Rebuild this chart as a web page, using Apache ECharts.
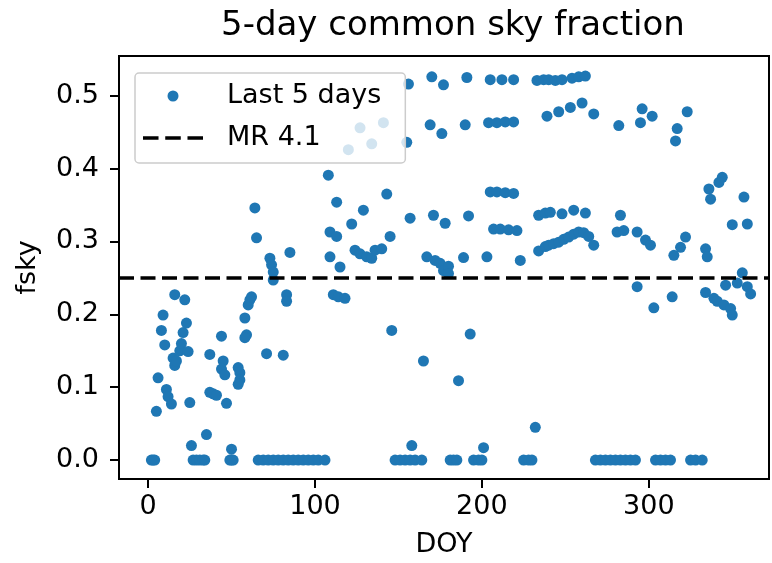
<!DOCTYPE html>
<html>
<head>
<meta charset="utf-8">
<script src="https://cdn.jsdelivr.net/npm/echarts@6/dist/echarts.min.js"></script>
<style>
  html, body { margin: 0; padding: 0; background: #fff; }
  #chart { width: 772px; height: 563px; }
</style>
</head>
<body>
<div id="chart"></div>
<script>
// day of year for every point
const doy = [
  2, 3, 4, 5, 6, 8, 9, 10, 11, 12, 14, 15, 16, 17, 16, 19, 20, 21, 22, 23, 24, 25,
  27, 29, 31, 33, 34, 26, 35, 49, 50, 51, 50,
  37, 44, 45, 44, 46, 37, 39, 41, 47, 54, 55, 55, 54, 58, 59, 58, 60, 61, 62,
  64, 65, 71, 73, 74, 75, 75, 81, 83, 83, 85,
  66, 69, 72, 75, 78, 81, 84, 87, 90, 93, 96, 99, 102, 106,
  108, 109, 113, 109, 113, 115, 111, 114, 118,
  120, 122, 124, 127, 127, 129, 131, 134, 134, 136, 140, 141, 143, 145, 146,
  148, 151, 154, 157, 160, 164, 158,
  155, 156, 157, 165, 167, 169, 170, 171, 172, 175, 176, 177, 177, 178, 180, 180,
  181, 183, 185, 186, 189, 190, 191, 192, 193,
  195, 198, 200, 201, 203,
  205, 212, 219, 204, 209, 214, 219, 205, 209, 214, 219, 207, 211, 216, 221, 223,
  225, 228, 230, 232,
  233, 237, 240, 244, 248, 254, 258, 262,
  239, 246, 253, 260, 267,
  234, 238, 241, 248, 255, 262,
  234, 238, 240, 243, 246, 249, 252, 255, 258, 261, 264, 267,
  268, 271, 274, 277, 280, 283, 286, 289, 292,
  282, 283, 281, 285, 293, 293, 296, 302, 295, 298, 301, 303,
  304, 307, 310, 313,
  315, 314, 316, 317, 319, 322, 323, 334, 335, 334,
  325, 328, 332,
  344, 342, 336, 337, 357, 350, 359, 356, 346, 353, 359, 361,
  339, 341, 345, 349, 350
];

// matching common sky fraction
const fsky = [
  0, 0, 0, 0.067, 0.113, 0.178, 0.199, 0.158, 0.097, 0.087, 0.077, 0.14, 0.13, 0.136, 0.227, 0.15, 0.16, 0.175, 0.22, 0.188, 0.149, 0.079,
  0, 0, 0, 0, 0, 0.02, 0.035, 0, 0, 0, 0.015,
  0.145, 0.17, 0.136, 0.125, 0.117, 0.093, 0.091, 0.089, 0.078, 0.127, 0.12, 0.11, 0.104, 0.195, 0.172, 0.168, 0.213, 0.22, 0.224,
  0.346, 0.305, 0.146, 0.277, 0.268, 0.258, 0.247, 0.144, 0.227, 0.218, 0.285,
  0, 0, 0, 0, 0, 0, 0, 0, 0, 0, 0, 0, 0, 0,
  0.391, 0.313, 0.354, 0.279, 0.307, 0.265, 0.227, 0.224, 0.222,
  0.426, 0.324, 0.288, 0.283, 0.456, 0.343, 0.279, 0.277, 0.434, 0.288, 0.29, 0.463, 0.365, 0.307, 0.178,
  0, 0, 0, 0, 0, 0, 0.02,
  0.436, 0.516, 0.332, 0.136, 0.279, 0.46, 0.526, 0.336, 0.274, 0.27, 0.448, 0.515, 0.26, 0.325, 0.266, 0.256,
  0, 0, 0, 0.109, 0.278, 0.46, 0.525, 0.335, 0.173,
  0, 0, 0, 0.017, 0.279,
  0.522, 0.522, 0.522, 0.463, 0.463, 0.464, 0.464, 0.368, 0.368, 0.367, 0.366, 0.317, 0.317, 0.316, 0.315, 0.274,
  0, 0, 0, 0.045,
  0.521, 0.522, 0.522, 0.521, 0.522, 0.524, 0.526, 0.527,
  0.472, 0.478, 0.484, 0.49, 0.475,
  0.336, 0.339, 0.34, 0.338, 0.343, 0.339,
  0.287, 0.293, 0.295, 0.297, 0.299, 0.303, 0.306, 0.31, 0.313, 0.312, 0.307, 0.295,
  0, 0, 0, 0, 0, 0, 0, 0, 0,
  0.459, 0.336, 0.313, 0.315, 0.313, 0.238, 0.482, 0.472, 0.463, 0.302, 0.295, 0.209,
  0, 0, 0, 0,
  0.281, 0.224, 0.438, 0.455, 0.292, 0.306, 0.478, 0.29, 0.279, 0.23,
  0, 0, 0,
  0.388, 0.381, 0.372, 0.358, 0.361, 0.323, 0.324, 0.257, 0.24, 0.243, 0.238, 0.228,
  0.222, 0.218, 0.213, 0.208, 0.199
];

const mrLevel = 0.25;
const xTicks = [0, 100, 200, 300];
const yTicks = [0, 0.1, 0.2, 0.3, 0.4, 0.5];
const xRange = [-17.4, 372];
const yRange = [-0.0259, 0.5545];

const points = doy.map((d, i) => [d, fsky[i]]);
const font = 'DejaVu Sans';
const dash = [15, 6.5];
// three dashes for the legend sample
const dashIcon = 'path://M0,0h15v3.5h-15z M21.5,0h15v3.5h-15z M43,0h15v3.5h-15z';

const chart = echarts.init(document.getElementById('chart'), null, { renderer: 'canvas' });
chart.setOption({
  animation: false,
  backgroundColor: '#fff',
  title: {
    text: '5-day common sky fraction',
    left: 216,
    top: 4,
    textStyle: { fontFamily: font, fontSize: 34, fontWeight: 'normal', color: '#000' }
  },
  legend: {
    orient: 'vertical',
    left: 135,
    top: 73,
    padding: [8, 24, 10, 8],
    itemGap: 12,
    itemWidth: 60,
    itemHeight: 11,
    backgroundColor: 'rgba(255,255,255,0.8)',
    borderColor: '#cccccc',
    borderWidth: 1.5,
    borderRadius: 4,
    textStyle: { fontFamily: font, fontSize: 27, color: '#000', lineHeight: 30, padding: [0, 0, 0, 19] },
    data: [
      { name: 'Last 5 days', icon: 'circle' },
      { name: 'MR 4.1', icon: dashIcon }
    ]
  },
  grid: {
    left: 119, right: 3, top: 56, bottom: 81,
    show: true, borderColor: '#000', borderWidth: 2
  },
  xAxis: {
    type: 'value',
    min: xRange[0],
    max: xRange[1],
    name: 'DOY',
    nameLocation: 'middle',
    nameGap: 52,
    nameTextStyle: { fontFamily: font, fontSize: 27, color: '#000' },
    splitLine: { show: false },
    axisLine: { show: true, onZero: false, lineStyle: { color: '#000', width: 2 } },
    axisTick: { show: true, length: 9, lineStyle: { color: '#000', width: 2 }, customValues: xTicks },
    axisLabel: { fontFamily: font, fontSize: 27, color: '#000', margin: 14, customValues: xTicks }
  },
  yAxis: {
    type: 'value',
    min: yRange[0],
    max: yRange[1],
    name: 'fsky',
    nameLocation: 'middle',
    nameGap: 78,
    nameTextStyle: { fontFamily: font, fontSize: 27, color: '#000' },
    splitLine: { show: false },
    axisLine: { show: true, onZero: false, lineStyle: { color: '#000', width: 2 } },
    axisTick: { show: true, length: 9, lineStyle: { color: '#000', width: 2 }, customValues: yTicks },
    axisLabel: {
      fontFamily: font, fontSize: 27, color: '#000', margin: 20, customValues: yTicks,
      formatter: v => v.toFixed(1)
    }
  },
  series: [
    {
      name: 'Last 5 days',
      type: 'scatter',
      symbol: 'circle',
      symbolSize: 11,
      itemStyle: { color: '#1f77b4', opacity: 1 },
      data: points,
      z: 2
    },
    {
      name: 'MR 4.1',
      type: 'line',
      data: [],
      symbol: 'none',
      itemStyle: { color: '#000' },
      lineStyle: { color: '#000', width: 3.5, type: dash },
      markLine: {
        silent: true,
        symbol: ['none', 'none'],
        label: { show: false },
        lineStyle: { color: '#000', width: 3.5, type: dash },
        data: [{ yAxis: mrLevel }]
      },
      z: 3
    }
  ]
});
</script>
</body>
</html>
